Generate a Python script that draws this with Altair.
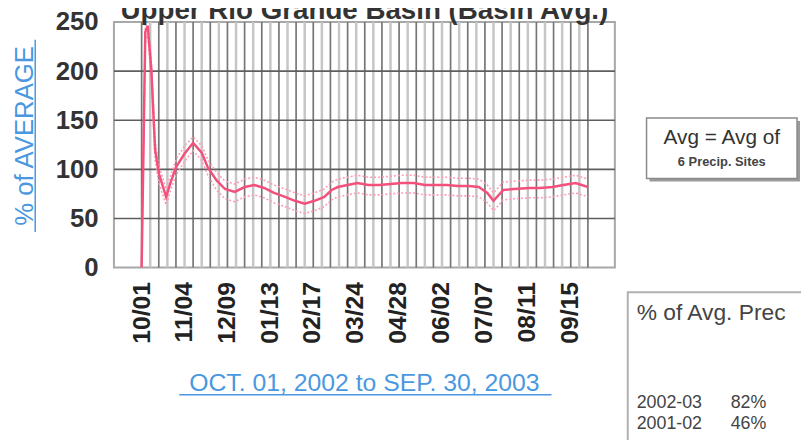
import altair as alt
import pandas as pd

# ---------------- data ----------------
dates = ["2002-10-01", "2002-10-04", "2002-10-06", "2002-10-09", "2002-10-12", "2002-10-15",
         "2002-10-21", "2002-10-25", "2002-10-29", "2002-11-05", "2002-11-12", "2002-11-19",
         "2002-11-24", "2002-12-01", "2002-12-08", "2002-12-16", "2002-12-24", "2003-01-01",
         "2003-01-09", "2003-01-17", "2003-01-26", "2003-02-03", "2003-02-11", "2003-02-19",
         "2003-02-27", "2003-03-05", "2003-03-10", "2003-03-18", "2003-03-26", "2003-04-04",
         "2003-04-13", "2003-04-22", "2003-05-01", "2003-05-11", "2003-05-20", "2003-05-29",
         "2003-06-07", "2003-06-16", "2003-06-25", "2003-07-03", "2003-07-10", "2003-07-15",
         "2003-07-23", "2003-08-01", "2003-08-13", "2003-08-22", "2003-09-01", "2003-09-10",
         "2003-09-20", "2003-09-30"]
pct_avg = [0, 240, 246, 200, 120, 96, 72, 88, 102, 116, 127, 117, 102, 89, 80, 77, 82, 84,
           81, 76, 72, 68, 65, 68, 72, 79, 82, 84, 86, 84, 84, 85, 86, 86, 84, 84, 84, 83,
           83, 82, 76, 68, 79, 80, 81, 81, 82, 84, 86, 82]
upper_band = [0, 246, 250, 208, 128, 104, 80, 95, 110, 124, 133, 124, 110, 97, 88, 85, 90, 92,
              89, 84, 80, 76, 73, 76, 80, 87, 90, 92, 94, 92, 92, 93, 94, 94, 92, 92, 92, 91,
              91, 90, 84, 76, 87, 88, 89, 89, 90, 92, 94, 90]
lower_band = [0, 230, 238, 190, 110, 86, 64, 80, 94, 108, 119, 109, 94, 79, 70, 67, 72, 74,
              71, 66, 62, 58, 55, 58, 62, 69, 72, 74, 76, 74, 74, 75, 76, 76, 74, 74, 74, 73,
              73, 72, 66, 58, 69, 70, 71, 71, 72, 74, 76, 72]
tick_dates = [(2002, 10, 1), (2002, 11, 4), (2002, 12, 9), (2003, 1, 13), (2003, 2, 17),
              (2003, 3, 24), (2003, 4, 28), (2003, 6, 2), (2003, 7, 7), (2003, 8, 11),
              (2003, 9, 15)]
y_ticks = [0, 50, 100, 150, 200, 250]
h_grid = [50, 100, 150, 200]
title_text = "Upper Rio Grande Basin (Basin Avg.)"
y_title = "% of AVERAGE"
x_title = "OCT. 01, 2002 to SEP. 30, 2003"
note_lines = ["Avg = Avg of", "6 Precip. Sites"]
table_header = "% of Avg. Prec"
table_years = ["2002-03", "2001-02"]
table_pcts = ["82%", "46%"]

# ---------------- build ----------------
W, H = 506, 248
FONT = "Liberation Sans"
BLUE = "#4a98e0"
PINK = "#f4507c"
LIGHT_PINK = "#ff9db5"

df = pd.DataFrame({
    "date": [d + "T00:00" for d in dates],
    "pct": pct_avg,
    "upper": upper_band,
    "lower": lower_band,
})

weeks = pd.date_range("2002-10-01", "2003-09-30", freq="7D")
grid_df = pd.DataFrame({
    "date": weeks.strftime("%Y-%m-%dT00:00"),
    "dark": [i % 2 == 0 for i in range(len(weeks))],
})
hgrid_df = pd.DataFrame({"v": h_grid})

xscale = alt.Scale(domain=[alt.DateTime(year=2002, month=9, date=8, hours=10),
                           alt.DateTime(year=2003, month=10, date=22)])
yscale = alt.Scale(domain=[0, 250])

x_axis = alt.Axis(
    values=[alt.DateTime(year=y, month=m, date=d) for (y, m, d) in tick_dates],
    format="%m/%d", labelAngle=270, labelFontSize=25, labelFontWeight="bold",
    labelColor="#222222", labelFont=FONT, labelPadding=14, ticks=False, domain=False,
    grid=False, title=None, labelOverlap=False, labelFlush=False,
)
y_axis = alt.Axis(
    values=y_ticks, labelFontSize=26, labelFontWeight="bold", labelColor="#333333",
    labelFont=FONT, labelPadding=16, ticks=False, domain=False, grid=False, title=None,
)


def X():
    return alt.X("date:T", scale=xscale, axis=x_axis)


one = alt.Data(values=[{"a": 1}])

light_grid = alt.Chart(grid_df).transform_filter("!datum.dark").mark_rule(
    color="#c6c6c6", strokeWidth=2.5
).encode(x=X(), y=alt.value(0), y2=alt.value(H))

dark_grid = alt.Chart(grid_df).transform_filter("datum.dark").mark_rule(
    color="#767676", strokeWidth=1.7
).encode(x=X(), y=alt.value(0), y2=alt.value(H))

hgrid = alt.Chart(hgrid_df).mark_rule(color="#5e5e5e", strokeWidth=1.6).encode(
    y=alt.Y("v:Q", scale=yscale, axis=y_axis), x=alt.value(0), x2=alt.value(W)
)

up_line = alt.Chart(df).mark_line(
    color=LIGHT_PINK, strokeWidth=1.6, strokeDash=[2, 2], clip=True
).encode(x=X(), y=alt.Y("upper:Q", scale=yscale, axis=y_axis))

lo_line = alt.Chart(df).mark_line(
    color=LIGHT_PINK, strokeWidth=1.6, strokeDash=[2, 2], clip=True
).encode(x=X(), y=alt.Y("lower:Q", scale=yscale, axis=y_axis))

main_line = alt.Chart(df).mark_line(color=PINK, strokeWidth=2.5, clip=True).encode(
    x=X(), y=alt.Y("pct:Q", scale=yscale, axis=y_axis)
)


def label(text, x, y, size, color="#333333", weight="normal", align="center",
          angle=0, baseline="alphabetic"):
    return alt.Chart(one).mark_text(
        text=text, fontSize=size, font=FONT, fontWeight=weight, color=color,
        align=align, baseline=baseline, angle=angle
    ).encode(x=alt.value(x), y=alt.value(y))


def rule(x, y, x2=None, y2=None, color=BLUE, width=1.5):
    enc = {"x": alt.value(x), "y": alt.value(y)}
    if x2 is not None:
        enc["x2"] = alt.value(x2)
    if y2 is not None:
        enc["y2"] = alt.value(y2)
    return alt.Chart(one).mark_rule(color=color, strokeWidth=width).encode(**enc)


def box(x, y, x2, y2, fill, stroke=None, width=1.5):
    kw = {"fill": fill}
    if stroke is not None:
        kw["stroke"] = stroke
        kw["strokeWidth"] = width
    return alt.Chart(one).mark_rect(**kw).encode(
        x=alt.value(x), y=alt.value(y), x2=alt.value(x2), y2=alt.value(y2)
    )


title = label(title_text, W / 2, -3, 28, color="#333333", weight="bold")
ytitle = label(y_title, -82, 115, 26, color=BLUE, angle=270)
ytitle_ul = rule(-79.5, 18, y2=212)
xtitle = label(x_title, 253, 373, 25, color=BLUE)
xtitle_ul = rule(66, 376.5, x2=442)

note_shadow = box(541, 100, 693, 161, "#9a9a9a")
note_box = box(538, 97, 690, 158, "white", stroke="#8a8a8a", width=1.5)
note1 = label(note_lines[0], 614, 123, 21, color="#333333")
note2 = label(note_lines[1], 614, 145, 13, color="#444444", weight="bold")

table_box = box(519, 273, 760, 460, "white", stroke="#b0b0b0", width=2)
th = label(table_header, 528, 301, 23, color="#444444", align="left")
ty1 = label(table_years[0], 528, 390, 18, color="#444444", align="left")
tp1 = label(table_pcts[0], 623, 390, 18, color="#444444", align="left")
ty2 = label(table_years[1], 528, 411, 18, color="#444444", align="left")
tp2 = label(table_pcts[1], 623, 411, 18, color="#444444", align="left")

chart = alt.layer(
    light_grid, dark_grid, hgrid, up_line, lo_line, main_line,
    title, ytitle, ytitle_ul, xtitle, xtitle_ul,
    note_shadow, note_box, note1, note2,
    table_box, th, ty1, tp1, ty2, tp2,
).properties(
    width=W, height=H,
    autosize=alt.AutoSizeParams(type="none"),
    padding={"left": 107, "top": 12, "right": 188, "bottom": 172},
    background="white",
).configure_view(stroke="#a8a8a8", strokeWidth=2)

chart.save("out.html", embed_options={"renderer": "svg", "actions": False})
